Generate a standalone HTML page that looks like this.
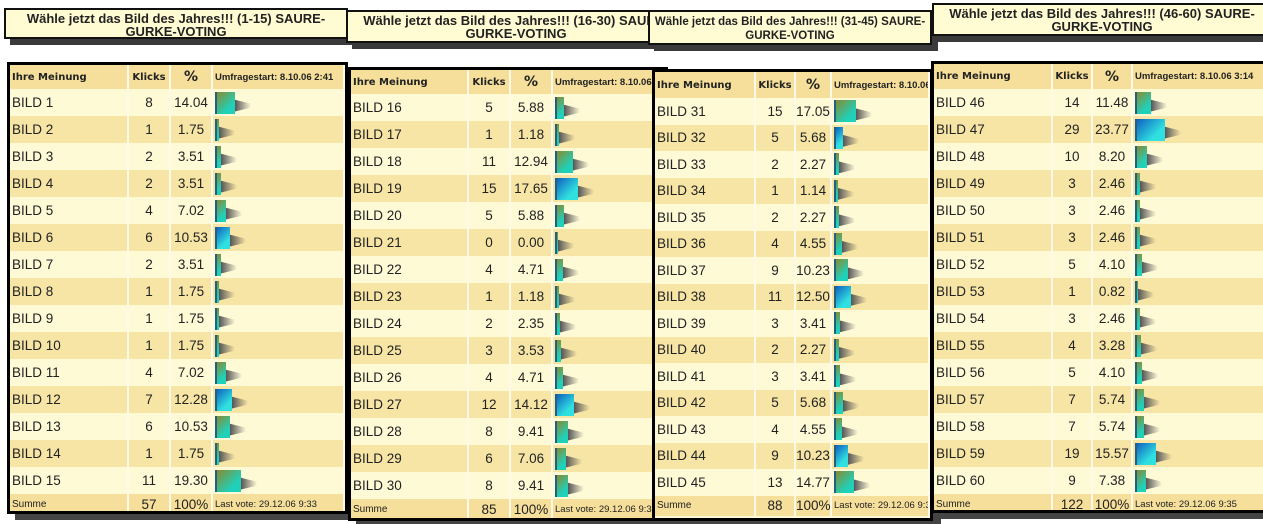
<!DOCTYPE html>
<html><head><meta charset="utf-8"><style>
body{margin:0;width:1263px;height:524px;background:#fff;position:relative;overflow:hidden;font-family:"Liberation Sans",sans-serif}
.t{position:absolute;background:#fffbd2;border:2px solid #111;font:bold 13px "Liberation Sans",sans-serif;text-align:center;line-height:13px;box-shadow:6px 6px 0 #3a3a3a;color:#222;padding-top:2px;box-sizing:border-box;overflow:hidden;white-space:nowrap}
.w{position:absolute;border:3px solid #000;box-shadow:8px 6px 0 #444;background:#fff8d8;overflow:hidden;box-sizing:border-box}
table{border-collapse:collapse;table-layout:fixed;width:100%}
td{padding:0 0 0 2px;font-size:13.5px;color:#222;white-space:nowrap;overflow:hidden;border-right:2px solid #fffae8}
td:nth-child(2),td:nth-child(3){text-align:center;padding:0}
tr.h td{font:bold 10px "DejaVu Sans",sans-serif;background:#f5df9a}
tr.h td:nth-child(3){font-size:14px}
tr.h td:nth-child(4){font:bold 9.5px "Liberation Sans",sans-serif}
tr.a td{background:#fffad6}
tr.b td{background:#f7e5a5}
tr.s td{background:#f5df9a}
tr.s td:first-child{font-size:10px}
tr.s td:nth-child(4){font-size:9.5px}
i{display:inline-block;height:22px;vertical-align:middle;background:linear-gradient(135deg,#8a8a30,#20d0b8 70%);border-left:2px solid #206080;position:relative}
i:after{content:"";position:absolute;left:100%;top:7px;width:16px;height:13px;background:linear-gradient(90deg,#555,rgba(200,200,200,0));clip-path:polygon(0 10%,100% 40%,100% 70%,0 100%)}
i.u{background:linear-gradient(135deg,#1060c0,#30e0e0 70%)}
</style></head><body>

<!-- Panel 1 -->
<div class="t" style="left:4px;top:8px;width:344px;height:31px">Wähle jetzt das Bild des Jahres!!! (1-15) SAURE-<br>GURKE-VOTING</div>
<div class="w" style="left:7px;top:62px;width:341px;height:452px">
<table><colgroup><col style="width:118px"><col style="width:42px"><col style="width:42px"><col></colgroup>
<tr class="h" style="height:24px"><td>Ihre Meinung</td><td>Klicks</td><td>%</td><td>Umfragestart: 8.10.06 2:41</td></tr>
<tr class="a" style="height:27px"><td>BILD 1</td><td>8</td><td>14.04</td><td><i style="width:18px"></i></td></tr>
<tr class="b" style="height:27px"><td>BILD 2</td><td>1</td><td>1.75</td><td><i style="width:2px"></i></td></tr>
<tr class="a" style="height:27px"><td>BILD 3</td><td>2</td><td>3.51</td><td><i style="width:4px"></i></td></tr>
<tr class="b" style="height:27px"><td>BILD 4</td><td>2</td><td>3.51</td><td><i style="width:4px"></i></td></tr>
<tr class="a" style="height:27px"><td>BILD 5</td><td>4</td><td>7.02</td><td><i style="width:9px"></i></td></tr>
<tr class="b" style="height:27px"><td>BILD 6</td><td>6</td><td>10.53</td><td><i class="u" style="width:13px"></i></td></tr>
<tr class="a" style="height:27px"><td>BILD 7</td><td>2</td><td>3.51</td><td><i style="width:4px"></i></td></tr>
<tr class="b" style="height:27px"><td>BILD 8</td><td>1</td><td>1.75</td><td><i style="width:2px"></i></td></tr>
<tr class="a" style="height:27px"><td>BILD 9</td><td>1</td><td>1.75</td><td><i style="width:2px"></i></td></tr>
<tr class="b" style="height:27px"><td>BILD 10</td><td>1</td><td>1.75</td><td><i style="width:2px"></i></td></tr>
<tr class="a" style="height:27px"><td>BILD 11</td><td>4</td><td>7.02</td><td><i style="width:9px"></i></td></tr>
<tr class="b" style="height:27px"><td>BILD 12</td><td>7</td><td>12.28</td><td><i class="u" style="width:15px"></i></td></tr>
<tr class="a" style="height:27px"><td>BILD 13</td><td>6</td><td>10.53</td><td><i style="width:13px"></i></td></tr>
<tr class="b" style="height:27px"><td>BILD 14</td><td>1</td><td>1.75</td><td><i style="width:2px"></i></td></tr>
<tr class="a" style="height:27px"><td>BILD 15</td><td>11</td><td>19.30</td><td><i style="width:24px"></i></td></tr>
<tr class="s" style="height:20px"><td>Summe</td><td>57</td><td>100%</td><td>Last vote: 29.12.06 9:33</td></tr>
</table></div>

<!-- Panel 2 -->
<div class="t" style="left:346px;top:10px;width:340px;height:33px">Wähle jetzt das Bild des Jahres!!! (16-30) SAURE-<br>GURKE-VOTING</div>
<div class="w" style="left:348px;top:67px;width:320px;height:454px">
<table style="width:340px"><colgroup><col style="width:117px"><col style="width:42px"><col style="width:42px"><col></colgroup>
<tr class="h" style="height:24px"><td>Ihre Meinung</td><td>Klicks</td><td>%</td><td>Umfragestart: 8.10.06 2:50</td></tr>
<tr class="a" style="height:27px"><td>BILD 16</td><td>5</td><td>5.88</td><td><i style="width:7px"></i></td></tr>
<tr class="b" style="height:27px"><td>BILD 17</td><td>1</td><td>1.18</td><td><i style="width:2px"></i></td></tr>
<tr class="a" style="height:27px"><td>BILD 18</td><td>11</td><td>12.94</td><td><i style="width:16px"></i></td></tr>
<tr class="b" style="height:27px"><td>BILD 19</td><td>15</td><td>17.65</td><td><i class="u" style="width:21px"></i></td></tr>
<tr class="a" style="height:27px"><td>BILD 20</td><td>5</td><td>5.88</td><td><i style="width:7px"></i></td></tr>
<tr class="b" style="height:27px"><td>BILD 21</td><td>0</td><td>0.00</td><td><i style="width:1px"></i></td></tr>
<tr class="a" style="height:27px"><td>BILD 22</td><td>4</td><td>4.71</td><td><i style="width:6px"></i></td></tr>
<tr class="b" style="height:27px"><td>BILD 23</td><td>1</td><td>1.18</td><td><i style="width:2px"></i></td></tr>
<tr class="a" style="height:27px"><td>BILD 24</td><td>2</td><td>2.35</td><td><i style="width:3px"></i></td></tr>
<tr class="b" style="height:27px"><td>BILD 25</td><td>3</td><td>3.53</td><td><i style="width:4px"></i></td></tr>
<tr class="a" style="height:27px"><td>BILD 26</td><td>4</td><td>4.71</td><td><i style="width:6px"></i></td></tr>
<tr class="b" style="height:27px"><td>BILD 27</td><td>12</td><td>14.12</td><td><i class="u" style="width:17px"></i></td></tr>
<tr class="a" style="height:27px"><td>BILD 28</td><td>8</td><td>9.41</td><td><i style="width:11px"></i></td></tr>
<tr class="b" style="height:27px"><td>BILD 29</td><td>6</td><td>7.06</td><td><i style="width:9px"></i></td></tr>
<tr class="a" style="height:27px"><td>BILD 30</td><td>8</td><td>9.41</td><td><i style="width:11px"></i></td></tr>
<tr class="s" style="height:20px"><td>Summe</td><td>85</td><td>100%</td><td>Last vote: 29.12.06 9:33</td></tr>
</table></div>

<!-- Panel 3 -->
<div class="t" style="left:648px;top:10px;width:284px;height:35px;padding-top:3px;font-size:11.5px;line-height:14px">Wähle jetzt das Bild des Jahres!!! (31-45) SAURE-<br>GURKE-VOTING</div>
<div class="w" style="left:652px;top:69px;width:281px;height:452px">
<table><colgroup><col style="width:100px"><col style="width:40px"><col style="width:36px"><col></colgroup>
<tr class="h" style="height:26px"><td>Ihre Meinung</td><td>Klicks</td><td>%</td><td>Umfragestart: 8.10.06 3:05</td></tr>
<tr class="a" style="height:26.5px"><td>BILD 31</td><td>15</td><td>17.05</td><td><i style="width:20px"></i></td></tr>
<tr class="b" style="height:26.5px"><td>BILD 32</td><td>5</td><td>5.68</td><td><i class="u" style="width:7px"></i></td></tr>
<tr class="a" style="height:26.5px"><td>BILD 33</td><td>2</td><td>2.27</td><td><i style="width:3px"></i></td></tr>
<tr class="b" style="height:26.5px"><td>BILD 34</td><td>1</td><td>1.14</td><td><i style="width:2px"></i></td></tr>
<tr class="a" style="height:26.5px"><td>BILD 35</td><td>2</td><td>2.27</td><td><i style="width:3px"></i></td></tr>
<tr class="b" style="height:26.5px"><td>BILD 36</td><td>4</td><td>4.55</td><td><i style="width:6px"></i></td></tr>
<tr class="a" style="height:26.5px"><td>BILD 37</td><td>9</td><td>10.23</td><td><i style="width:12px"></i></td></tr>
<tr class="b" style="height:26.5px"><td>BILD 38</td><td>11</td><td>12.50</td><td><i class="u" style="width:15px"></i></td></tr>
<tr class="a" style="height:26.5px"><td>BILD 39</td><td>3</td><td>3.41</td><td><i style="width:4px"></i></td></tr>
<tr class="b" style="height:26.5px"><td>BILD 40</td><td>2</td><td>2.27</td><td><i style="width:3px"></i></td></tr>
<tr class="a" style="height:26.5px"><td>BILD 41</td><td>3</td><td>3.41</td><td><i style="width:4px"></i></td></tr>
<tr class="b" style="height:26.5px"><td>BILD 42</td><td>5</td><td>5.68</td><td><i style="width:7px"></i></td></tr>
<tr class="a" style="height:26.5px"><td>BILD 43</td><td>4</td><td>4.55</td><td><i style="width:6px"></i></td></tr>
<tr class="b" style="height:26.5px"><td>BILD 44</td><td>9</td><td>10.23</td><td><i class="u" style="width:12px"></i></td></tr>
<tr class="a" style="height:26.5px"><td>BILD 45</td><td>13</td><td>14.77</td><td><i style="width:18px"></i></td></tr>
<tr class="s" style="height:20px"><td>Summe</td><td>88</td><td>100%</td><td>Last vote: 29.12.06 9:34</td></tr>
</table></div>

<!-- Panel 4 -->
<div class="t" style="left:932px;top:3px;width:340px;height:33px">Wähle jetzt das Bild des Jahres!!! (46-60) SAURE-<br>GURKE-VOTING</div>
<div class="w" style="left:931px;top:61px;width:340px;height:452px">
<table><colgroup><col style="width:118px"><col style="width:40px"><col style="width:40px"><col></colgroup>
<tr class="h" style="height:25px"><td>Ihre Meinung</td><td>Klicks</td><td>%</td><td>Umfragestart: 8.10.06 3:14</td></tr>
<tr class="a" style="height:27px"><td>BILD 46</td><td>14</td><td>11.48</td><td><i style="width:14px"></i></td></tr>
<tr class="b" style="height:27px"><td>BILD 47</td><td>29</td><td>23.77</td><td><i class="u" style="width:28px"></i></td></tr>
<tr class="a" style="height:27px"><td>BILD 48</td><td>10</td><td>8.20</td><td><i style="width:10px"></i></td></tr>
<tr class="b" style="height:27px"><td>BILD 49</td><td>3</td><td>2.46</td><td><i style="width:3px"></i></td></tr>
<tr class="a" style="height:27px"><td>BILD 50</td><td>3</td><td>2.46</td><td><i style="width:3px"></i></td></tr>
<tr class="b" style="height:27px"><td>BILD 51</td><td>3</td><td>2.46</td><td><i style="width:3px"></i></td></tr>
<tr class="a" style="height:27px"><td>BILD 52</td><td>5</td><td>4.10</td><td><i style="width:5px"></i></td></tr>
<tr class="b" style="height:27px"><td>BILD 53</td><td>1</td><td>0.82</td><td><i style="width:1px"></i></td></tr>
<tr class="a" style="height:27px"><td>BILD 54</td><td>3</td><td>2.46</td><td><i style="width:3px"></i></td></tr>
<tr class="b" style="height:27px"><td>BILD 55</td><td>4</td><td>3.28</td><td><i style="width:4px"></i></td></tr>
<tr class="a" style="height:27px"><td>BILD 56</td><td>5</td><td>4.10</td><td><i style="width:5px"></i></td></tr>
<tr class="b" style="height:27px"><td>BILD 57</td><td>7</td><td>5.74</td><td><i style="width:7px"></i></td></tr>
<tr class="a" style="height:27px"><td>BILD 58</td><td>7</td><td>5.74</td><td><i style="width:7px"></i></td></tr>
<tr class="b" style="height:27px"><td>BILD 59</td><td>19</td><td>15.57</td><td><i class="u" style="width:19px"></i></td></tr>
<tr class="a" style="height:27px"><td>BILD 60</td><td>9</td><td>7.38</td><td><i style="width:9px"></i></td></tr>
<tr class="s" style="height:20px"><td>Summe</td><td>122</td><td>100%</td><td>Last vote: 29.12.06 9:35</td></tr>
</table></div>

</body></html>
